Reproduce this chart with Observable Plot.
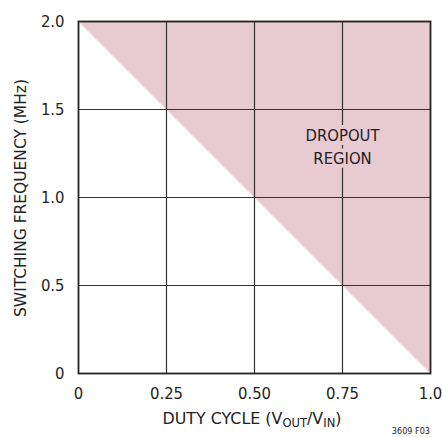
<!DOCTYPE html>
<html><head><meta charset="utf-8">
<script src="https://cdn.jsdelivr.net/npm/d3@7"></script>
<script src="https://cdn.jsdelivr.net/npm/@observablehq/plot@0.6"></script>
<style>
html,body{margin:0;padding:0;background:#fff;}
svg{font-family:"Liberation Sans Narrow","DejaVu Sans Condensed",Arial,sans-serif;}
</style></head>
<body><div id="chart"></div>
<script>
const dutyBoundary = [0, 1];
const freqBoundary = [2, 0];
const xTicks = [0, 0.25, 0.5, 0.75, 1];
const xTickLabels = ["0", "0.25", "0.50", "0.75", "1.0"];
const yTicks = [0, 0.5, 1, 1.5, 2];
const yTickLabels = ["0", "0.5", "1.0", "1.5", "2.0"];
const regionLabel = [{x: 0.75, y: 1.3, t: "DROPOUT\nREGION"}];

const pink = "#e8cad3";
const area = dutyBoundary.map((d, i) => ({x: d, y: freqBoundary[i], top: 2}));
const font = '"Liberation Sans Narrow","DejaVu Sans Condensed",Arial,sans-serif';

const plot = Plot.plot({
  width: 443, height: 437,
  marginLeft: 78, marginRight: 13, marginTop: 21, marginBottom: 64,
  style: {fontFamily: font, fontSize: "16.5px", color: "#222"},
  x: {domain: [0, 1], ticks: xTicks, tickFormat: (d) => xTickLabels[xTicks.indexOf(d)], tickSize: 0, tickPadding: 14, label: null},
  y: {domain: [0, 2], ticks: yTicks, tickFormat: (d) => yTickLabels[yTicks.indexOf(d)], tickSize: 0, tickPadding: 14, label: null},
  marks: [
    Plot.areaY(area, {x: "x", y1: "y", y2: "top", fill: pink}),
    Plot.ruleX(xTicks.slice(1, -1), {stroke: "#333", strokeWidth: 1.2}),
    Plot.ruleY(yTicks.slice(1, -1), {stroke: "#333", strokeWidth: 1.2}),
    Plot.text(regionLabel, {x: "x", y: "y", text: "t", fontSize: 16.5, fill: "#222", stroke: pink, strokeWidth: 8, lineHeight: 1.4}),
    Plot.frame({stroke: "#222", strokeWidth: 1.8})
  ]
});

const svg = d3.select(plot);
const xl = svg.append("text").attr("x", 252).attr("y", 424).attr("text-anchor", "middle")
  .attr("font-size", 16.5).attr("fill", "#222")
  .attr("textLength", 179).attr("lengthAdjust", "spacingAndGlyphs");
xl.append("tspan").text("DUTY CYCLE (V");
xl.append("tspan").attr("font-size", 12).attr("dy", 3).text("OUT");
xl.append("tspan").attr("dy", -3).text("/V");
xl.append("tspan").attr("font-size", 12).attr("dy", 3).text("IN");
xl.append("tspan").attr("dy", -3).text(")");

svg.append("text").attr("transform", "translate(26,198) rotate(-90)").attr("text-anchor", "middle")
  .attr("font-size", 16.5).attr("fill", "#222")
  .attr("textLength", 238).attr("lengthAdjust", "spacingAndGlyphs")
  .text("SWITCHING FREQUENCY (MHz)");

svg.append("text").attr("x", 430).attr("y", 434).attr("text-anchor", "end")
  .attr("font-size", 9).attr("fill", "#222").text("3609 F03");

document.getElementById("chart").appendChild(plot);
</script></body></html>
